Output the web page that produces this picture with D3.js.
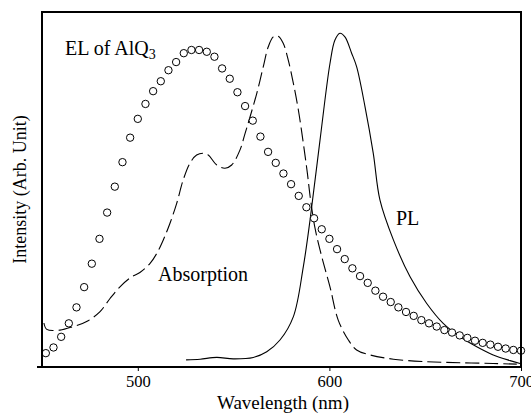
<!DOCTYPE html>
<html>
<head>
<meta charset="utf-8">
<script src="https://cdn.jsdelivr.net/npm/d3@7"></script>
<style>
  html, body { margin: 0; padding: 0; background: #fff; }
  text { font-family: "Liberation Serif", "DejaVu Serif", serif; fill: #000; }
</style>
</head>
<body>
<div id="chart"></div>
<script>
/* EL of AlQ3: one circle every 4 nm from 452 to 700 */
const elStart = 452;
const elStep = 4;
const elValues = [3.9, 5.5, 8.5, 12.3, 16.8, 22.5, 29.1, 36.1, 43.5, 50.8,
  57.7, 64.6, 69.9, 74.1, 77.7, 80.5, 83.6, 85.9, 88.4, 89.3,
  89.3, 88.8, 87.4, 84.1, 81.2, 77.4, 73.5, 69.4, 64.9, 60.6,
  57.5, 54.5, 51.5, 48.2, 45.0, 41.9, 38.8, 36.1, 33.2, 30.4,
  27.8, 25.6, 23.7, 21.5, 19.8, 18.3, 16.8, 15.5, 14.4, 13.2,
  12.3, 11.4, 10.4, 9.7, 8.9, 8.2, 7.4, 6.8, 6.3, 5.7,
  5.2, 4.8, 4.6];

/* absorption (dashed) */
const absWave = [451, 452.5, 459.4, 466.3, 473.3, 480.3, 485.5, 490.7, 496.8, 501.1,
  506.4, 509.9, 513.3, 516.8, 520.3, 523.7, 527.2, 530.7, 534.2, 536.8,
  541.2, 545.5, 549, 553.3, 556, 558.6, 562.1, 565.5, 568.1, 570.7,
  573.3, 575.9, 578.5, 581.2, 583.8, 586.4, 588.5, 590.2, 592.5, 596,
  600.3, 604.6, 609.9, 614.2, 621.2, 633.4, 650.8, 668.2, 685.5, 697.8];
const absValues = [12.4, 10.6, 10.4, 11.4, 12.8, 15.6, 19.3, 22.6, 25.4, 26.6,
  29.2, 32.0, 35.8, 40.5, 46.1, 52.7, 57.4, 59.7, 60.2, 59.7,
  56.9, 56.0, 56.9, 61.1, 65.8, 70.5, 77.1, 84.6, 90.2, 93.0,
  93.2, 91.2, 86.5, 79.9, 72.4, 63.0, 54.6, 47.0, 39.1, 31.1,
  22.6, 13.2, 7.6, 4.8, 3.4, 2.2, 1.5, 1.2, 1.0, 0.8];

/* PL (solid) */
const plWave = [525.2, 532.5, 541.2, 549.8, 560.3, 567.3, 574.2, 581.2, 586.4, 589.9,
  595.1, 600.3, 602.9, 605.5, 608.1, 611.6, 614.2, 618.6, 622.9, 626.4,
  633.4, 642.1, 650.8, 659.4, 668.2, 676.9, 685.5, 694.3, 699.5];
const plValues = [2.0, 2.2, 2.7, 2.3, 2.7, 4.3, 7.6, 14.2, 28.3, 41.4,
  63.9, 85.5, 92.1, 94.0, 93.0, 88.4, 84.6, 73.3, 60.2, 47.0,
  35.8, 25.4, 17.9, 12.3, 8.5, 5.7, 3.4, 1.8, 1.0];

const xTicks = [500, 600, 700];

const chartWidth = 531;
const chartHeight = 416;
const padLeft = 42, padRight = 521, padTop = 12, padBottom = 367;

const x = d3.scaleLinear().domain([450, 700]).range([padLeft, padRight]);
const y = d3.scaleLinear().domain([0, 100]).range([padBottom, padTop]);

const svg = d3.select("#chart").append("svg")
  .attr("width", chartWidth)
  .attr("height", chartHeight);

const plot = svg.append("g");

const line = d3.line()
  .x(d => x(d[0]))
  .y(d => y(d[1]))
  .curve(d3.curveCatmullRom);

/* absorption */
plot.append("path")
  .datum(absWave.map((w, i) => [w, absValues[i]]))
  .attr("d", line)
  .attr("fill", "none")
  .attr("stroke", "#000")
  .attr("stroke-width", 1.1)
  .attr("stroke-dasharray", "14,5");

/* PL */
plot.append("path")
  .datum(plWave.map((w, i) => [w, plValues[i]]))
  .attr("d", line)
  .attr("fill", "none")
  .attr("stroke", "#000")
  .attr("stroke-width", 1.1);

/* EL circles */
plot.selectAll("circle.el")
  .data(elValues.map((v, i) => [elStart + i * elStep, v]))
  .enter()
  .append("circle")
  .attr("class", "el")
  .attr("cx", d => x(d[0]))
  .attr("cy", d => y(d[1]))
  .attr("r", 3.7)
  .attr("fill", "#fff")
  .attr("stroke", "#000")
  .attr("stroke-width", 1);

/* frame */
svg.append("line")
  .attr("x1", padLeft).attr("x2", padRight).attr("y1", padTop).attr("y2", padTop)
  .attr("stroke", "#000").attr("stroke-width", 2);
svg.append("line")
  .attr("x1", padRight).attr("x2", padRight).attr("y1", padTop - 1).attr("y2", padBottom)
  .attr("stroke", "#000").attr("stroke-width", 2);
svg.append("line")
  .attr("x1", padLeft).attr("x2", padLeft).attr("y1", padTop - 1).attr("y2", padBottom)
  .attr("stroke", "#000").attr("stroke-width", 2);

/* x axis */
const xAxis = d3.axisBottom(x)
  .tickValues(xTicks)
  .tickSize(4)
  .tickPadding(4)
  .tickFormat(d => d);

const gx = svg.append("g")
  .attr("transform", "translate(0," + padBottom + ")")
  .call(xAxis);
gx.select(".domain").remove();
gx.selectAll(".tick line").attr("stroke-width", 1);
gx.selectAll(".tick text")
  .style("font-family", "Liberation Serif, serif")
  .style("font-size", "16.5px");

svg.append("line")
  .attr("x1", padLeft - 5).attr("x2", padRight + 1).attr("y1", padBottom).attr("y2", padBottom)
  .attr("stroke", "#000").attr("stroke-width", 2);

/* axis titles */
svg.append("text")
  .attr("x", 283)
  .attr("y", 409)
  .attr("text-anchor", "middle")
  .style("font-size", "19px")
  .text("Wavelength (nm)");

svg.append("text")
  .attr("transform", "translate(26," + ((padTop + padBottom) / 2) + ") rotate(-90)")
  .attr("text-anchor", "middle")
  .style("font-size", "18px")
  .text("Intensity (Arb. Unit)");

/* curve labels */
const elLabel = svg.append("text")
  .attr("x", 65)
  .attr("y", 55)
  .style("font-size", "20px");
elLabel.append("tspan").text("EL of AlQ");
elLabel.append("tspan").attr("dy", 4).style("font-size", "14px").text("3");

svg.append("text")
  .attr("x", 158)
  .attr("y", 281)
  .style("font-size", "20px")
  .text("Absorption");

svg.append("text")
  .attr("x", 396)
  .attr("y", 225)
  .style("font-size", "20px")
  .text("PL");
</script>
</body>
</html>
